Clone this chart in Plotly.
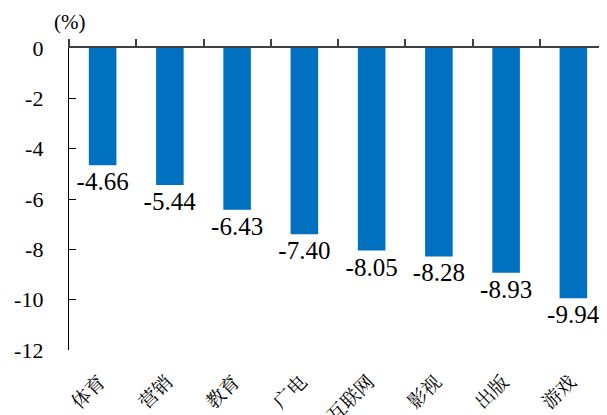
import plotly.graph_objects as go

categories = ["体育", "营销", "教育", "广电", "互联网", "影视", "出版", "游戏"]
values = [-4.66, -5.44, -6.43, -7.40, -8.05, -8.28, -8.93, -9.94]
y_ticks = [0, -2, -4, -6, -8, -10, -12]

serif = "Liberation Serif"
cjk = "Noto Serif CJK SC"

fig = go.Figure()
fig.add_trace(go.Bar(
    x=list(range(len(categories))),
    y=values,
    marker=dict(color="#0070C0", line=dict(width=0)),
    width=0.41,
    text=[f"{v:.2f}" for v in values],
    textposition="outside",
    constraintext="none",
    textfont=dict(family=serif, size=25, color="black"),
    cliponaxis=False,
    hoverinfo="skip",
))
# invisible trace to carry the top axis
fig.add_trace(go.Scatter(
    x=[-0.5, len(categories) - 0.5], y=[0, 0], xaxis="x2",
    mode="lines", line=dict(width=0, color="rgba(0,0,0,0)"),
    hoverinfo="skip", showlegend=False,
))

fig.update_layout(
    width=607, height=415,
    margin=dict(l=61, r=8, t=40, b=73),
    paper_bgcolor="white", plot_bgcolor="white",
    showlegend=False,
    font=dict(family=serif, color="black"),
    xaxis=dict(
        range=[-0.5, len(categories) - 0.5],
        tickvals=list(range(len(categories))),
        ticktext=categories,
        tickangle=-45,
        tickfont=dict(family=cjk, size=19, color="black"),
        ticklabelstandoff=16,
        ticklabelshift=-3,
        showline=False, ticks="", showgrid=False, zeroline=False,
        automargin=False,
    ),
    xaxis2=dict(
        overlaying="x", side="top", anchor="y",
        range=[-0.5, len(categories) - 0.5],
        tickvals=[i - 0.5 for i in range(len(categories) + 1)],
        showticklabels=False,
        showline=True, linecolor="#404040", linewidth=1.5,
        ticks="outside", ticklen=7, tickcolor="#404040", tickwidth=1.5,
        showgrid=False, zeroline=False,
    ),
    yaxis=dict(
        range=[-12, 0],
        tickvals=y_ticks,
        ticktext=[str(t) for t in y_ticks],
        tickfont=dict(family=serif, size=22, color="black"),
        showline=True, linecolor="black", linewidth=1.3,
        ticks="inside", ticklen=7, tickcolor="black", tickwidth=1.3,
        ticklabelstandoff=20,
        showgrid=False, zeroline=False, automargin=False,
    ),
    annotations=[dict(
        text="(%)", xref="paper", yref="paper", x=0.0, y=1.0,
        xanchor="center", yanchor="bottom", yshift=12, showarrow=False,
        font=dict(family=serif, size=21, color="black"),
    )],
)

fig.write_html("out.html")
